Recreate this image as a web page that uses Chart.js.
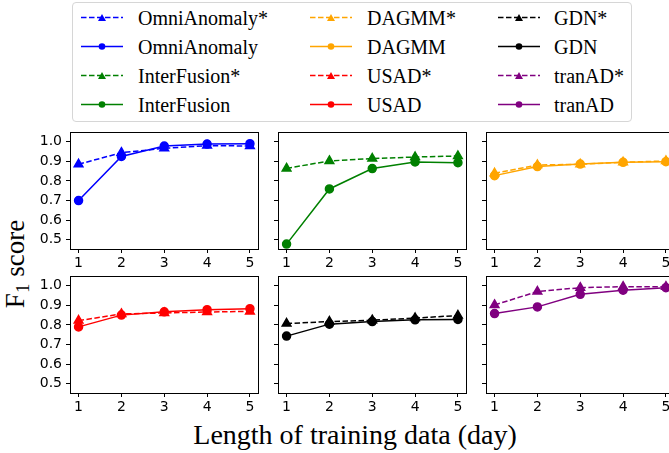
<!DOCTYPE html>
<html>
<head>
<meta charset="utf-8">
<script src="https://cdn.jsdelivr.net/npm/chart.js@4/dist/chart.umd.min.js"></script>
<style>
  body { margin: 0; width: 669px; height: 453px; overflow: hidden; background: #fff; position: relative; font-family: "Liberation Serif", "Times New Roman", serif; }
  canvas { position: absolute; }
  #legend { position: absolute; left: 72px; top: 2px; width: 560px; height: 120px; border: 1px solid #d6d6d6; border-radius: 4px; box-sizing: border-box; }
  .item { position: absolute; height: 24px; font-size: 20px; line-height: 24px; color: #000; white-space: nowrap; }
  .item svg { position: absolute; left: 0; top: 5px; }
  .item span { position: absolute; }
  #ytitle { position: absolute; left: -33px; top: 247px; width: 100px; text-align: center; font-size: 27px; transform: rotate(-90deg); white-space: nowrap; }
  #ytitle sub { font-size: 19px; vertical-align: -5px; }
  #xtitle { position: absolute; left: 100px; top: 419px; width: 510px; text-align: center; font-size: 28px; white-space: nowrap; }
</style>
</head>
<body>
<div id="legend"></div>
<div id="ytitle">F<sub>1</sub> score</div>
<div id="xtitle">Length of training data (day)</div>
<script>
// training length in days
var days = [1, 2, 3, 4, 5];
var methods = ["OmniAnomaly", "InterFusion", "DAGMM", "USAD", "GDN", "tranAD"];
var colors = ["#0000ff", "#008000", "#ffa500", "#ff0000", "#000000", "#800080"];
var yTicks = [0.5, 0.6, 0.7, 0.8, 0.9, 1.0];

// "*" variants (dashed, triangles)
var omniStar  = [0.885, 0.944, 0.966, 0.980, 0.978];
var interStar = [0.864, 0.902, 0.914, 0.922, 0.927];
var dagmmStar = [0.839, 0.881, 0.885, 0.895, 0.902];
var usadStar  = [0.822, 0.856, 0.861, 0.866, 0.869];
var gdnStar   = [0.807, 0.817, 0.824, 0.835, 0.848];
var tranStar  = [0.902, 0.970, 0.990, 0.995, 0.995];

// plain variants (solid, circles)
var omni  = [0.700, 0.925, 0.978, 0.988, 0.990];
var inter = [0.478, 0.759, 0.863, 0.897, 0.893];
var dagmm = [0.827, 0.873, 0.886, 0.895, 0.898];
var usad  = [0.790, 0.850, 0.867, 0.878, 0.883];
var gdn   = [0.743, 0.804, 0.817, 0.826, 0.828];
var tran  = [0.858, 0.892, 0.956, 0.977, 0.990];

var starSeries = [omniStar, interStar, dagmmStar, usadStar, gdnStar, tranStar];
var plainSeries = [omni, inter, dagmm, usad, gdn, tran];

var box = { colLeft: [70, 277.5, 486], rowTop: [130.5, 274.5], w: 189, h: 118 };
var pad = { axisW: 45, axisH: 30, top: 6, right: 6 };

var frame = {
    id: "frame",
    afterDraw: function (chart) {
        var a = chart.chartArea, ctx = chart.ctx;
        ctx.save();
        ctx.strokeStyle = "#000";
        ctx.lineWidth = 1;
        ctx.strokeRect(Math.round(a.left) + 0.5, Math.round(a.top) + 0.5,
            Math.round(a.right - a.left) - 1, Math.round(a.bottom - a.top) - 1);
        ctx.restore();
    }
};

function pts(vals) {
    return days.map(function (d, i) { return { x: d, y: vals[i] }; });
}

function makeChart(k) {
    var col = k % 3, row = Math.floor(k / 3);
    var cv = document.createElement("canvas");
    var W = box.w + pad.axisW + pad.right, H = box.h + pad.top + pad.axisH;
    cv.width = W; cv.height = H;
    cv.style.left = (box.colLeft[col] - pad.axisW) + "px";
    cv.style.top = (box.rowTop[row] - pad.top) + "px";
    cv.style.width = W + "px"; cv.style.height = H + "px";
    document.body.appendChild(cv);

    var c = colors[k];
    new Chart(cv, {
        type: "line",
        data: {
            datasets: [{
                label: methods[k],
                data: pts(plainSeries[k]),
                borderColor: c, backgroundColor: c,
                borderWidth: 1.5, pointStyle: "circle", pointRadius: 4,
                order: 0
            }, {
                label: methods[k] + "*",
                data: pts(starSeries[k]),
                borderColor: c, backgroundColor: c,
                borderWidth: 1.5, borderDash: [5.5, 2.5],
                pointStyle: "triangle", pointRadius: 5,
                order: 1
            }]
        },
        options: {
            responsive: false, animation: false, devicePixelRatio: 1,
            layout: { padding: { top: pad.top, right: pad.right, left: 0, bottom: 0 } },
            plugins: { legend: { display: false }, tooltip: { enabled: false } },
            scales: {
                x: {
                    type: "linear", min: 0.8, max: 5.2,
                    afterBuildTicks: function (s) { s.ticks = days.map(function (d) { return { value: d }; }); },
                    afterFit: function (s) { s.height = pad.axisH; s.paddingLeft = 0; s.paddingRight = 0; },
                    grid: { display: true, drawOnChartArea: false, drawTicks: true, tickLength: 4, tickColor: "#000" },
                    border: { display: false },
                    ticks: { color: "#000", padding: 2, maxRotation: 0, font: { family: "DejaVu Sans", size: 14 },
                        callback: function (v) { return String(v); } }
                },
                y: {
                    type: "linear", min: 0.453, max: 1.052,
                    afterBuildTicks: function (s) { s.ticks = yTicks.map(function (t) { return { value: t }; }); },
                    afterFit: function (s) { s.width = pad.axisW; s.paddingTop = 0; s.paddingBottom = 0; },
                    grid: { display: true, drawOnChartArea: false, drawTicks: true, tickLength: 4, tickColor: "#000" },
                    border: { display: false },
                    ticks: { display: col === 0, color: "#000", padding: 4, font: { family: "DejaVu Sans", size: 14 },
                        callback: function (v) { return v.toFixed(1); } }
                }
            }
        },
        plugins: [frame]
    });
}

for (var k = 0; k < 6; k++) makeChart(k);

// legend, column-major like the original
var legCol = { handle: [8, 237, 425], text: [65, 294, 481] };
var legRow = [3, 32, 61, 90];
var leg = document.getElementById("legend");
methods.forEach(function (m, k) {
    [true, false].forEach(function (star, j) {
        var idx = k * 2 + j;
        var col = Math.floor(idx / 4), row = idx % 4;
        var c = colors[k];
        var mark = star
            ? '<polygon points="21,10 17,17 25,17" fill="' + c + '"/>'
            : '<circle cx="21" cy="13.5" r="3.3" fill="' + c + '"/>';
        var line = '<line x1="0" y1="13.5" x2="42" y2="13.5" stroke="' + c + '" stroke-width="1.5"' +
            (star ? ' stroke-dasharray="5.5,2.5"' : '') + '/>';
        var div = document.createElement("div");
        div.className = "item";
        div.style.left = legCol.handle[col] + "px";
        div.style.top = legRow[row] + "px";
        div.innerHTML = '<svg width="42" height="27" style="top:-2px">' + line + mark + '</svg>' +
            '<span style="left:' + (legCol.text[col] - legCol.handle[col]) + 'px">' + m + (star ? "*" : "") + '</span>';
        leg.appendChild(div);
    });
});
</script>
</body>
</html>
